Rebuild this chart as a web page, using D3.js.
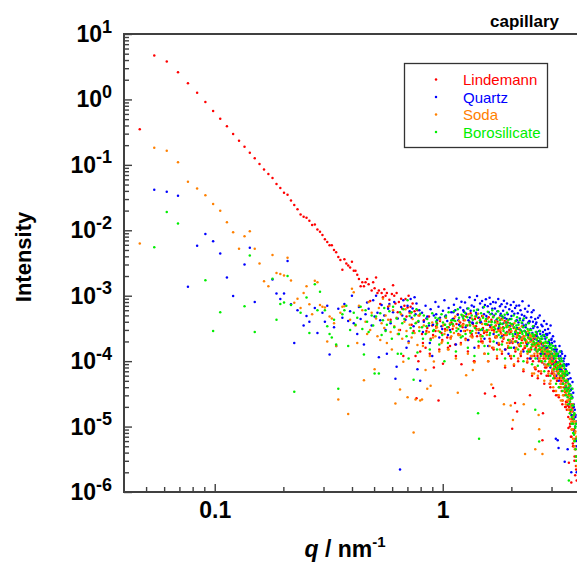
<!DOCTYPE html>
<html><head><meta charset="utf-8">
<script src="https://cdn.jsdelivr.net/npm/d3@7"></script>
<style>body{margin:0;background:#fff}svg{display:block}</style>
</head><body>
<svg id="chart" width="577" height="565"></svg>
<script>
// ---------- DATA ----------
const qLow = [0.0469,0.0543,0.0616,0.0690,0.0763,0.0837,0.0910,0.0984,0.1057,0.1131,
0.1204,0.1278,0.1351,0.1425,0.1498,0.1572,0.1645,0.1719,0.1792,0.1866,
0.1939,0.2013,0.2086,0.2160,0.2233,0.2307,0.2380,0.2454,0.2527,0.2601,
0.2674,0.2748,0.2821,0.2895,0.2968,0.3042,0.3115,0.3189,0.3262,0.3336,
0.3409,0.3483,0.3556,0.3630,0.3703,0.3777,0.3850,0.3924,0.3997,0.4071,
0.4144,0.4218,0.4291,0.4365,0.4438,0.4512,0.4585,0.4659,0.4732,0.4806,
0.4879,0.4953,0.5026,0.5100,0.5173,0.5247,0.5320,0.5394,0.5467,0.5541,
0.5614,0.5688,0.5761,0.5835,0.5908,0.5982,0.6055,0.6129,0.6202,0.6276,
0.6349,0.6423,0.6496,0.6570,0.6643,0.6717,0.6790,0.6864,0.6937,0.7011,
0.7084,0.7158,0.7231,0.7305,0.7378,0.7452,0.7525,0.7599,0.7672,0.7746,
0.7819,0.7893,0.7966];
const qHigh = [0.8113,0.8260,0.8407,0.8554,0.8701,0.8848,0.8995,0.9142,0.9289,0.9436,
0.9583,0.9730,0.9877,1.0024,1.0171,1.0318,1.0465,1.0612,1.0759,1.0906,
1.1053,1.1200,1.1347,1.1494,1.1641,1.1788,1.1935,1.2082,1.2229,1.2376,
1.2523,1.2670,1.2817,1.2964,1.3111,1.3258,1.3405,1.3552,1.3699,1.3846,
1.3993,1.4140,1.4287,1.4434,1.4581,1.4728,1.4875,1.5022,1.5169,1.5316,
1.5463,1.5610,1.5757,1.5904,1.6051,1.6198,1.6345,1.6492,1.6639,1.6786,
1.6933,1.7080,1.7227,1.7374,1.7521,1.7668,1.7815,1.7962,1.8109,1.8256,
1.8403,1.8550,1.8697,1.8844,1.8991,1.9138,1.9285,1.9432,1.9579,1.9726,
1.9873,2.0020,2.0167,2.0314,2.0461,2.0608,2.0755,2.0902,2.1049,2.1196,
2.1343,2.1490,2.1637,2.1784,2.1931,2.2078,2.2225,2.2372,2.2519,2.2666,
2.2813,2.2960,2.3107,2.3254,2.3401,2.3548,2.3695,2.3842,2.3989,2.4136,
2.4283,2.4430,2.4577,2.4724,2.4871,2.5018,2.5165,2.5312,2.5459,2.5606,
2.5753,2.5900,2.6047,2.6194,2.6341,2.6488,2.6635,2.6782,2.6929,2.7076,
2.7223,2.7370,2.7517,2.7664,2.7811,2.7958,2.8105,2.8252,2.8399,2.8546,
2.8693,2.8840,2.8987,2.9134,2.9281,2.9428,2.9575,2.9722,2.9869,3.0016,
3.0163,3.0310,3.0457,3.0604,3.0751,3.0898,3.1045,3.1192,3.1339,3.1486,
3.1633,3.1780,3.1927,3.2074,3.2221,3.2368,3.2515,3.2662,3.2809,3.2956,
3.3103,3.3250,3.3397,3.3544,3.3691,3.3838,3.3985,3.4132,3.4279,3.4426,
3.4573,3.4720,3.4867,3.5014,3.5161,3.5308,3.5455,3.5602,3.5749,3.5896,
3.6043,3.6190,3.6337,3.6484,3.6631,3.6778,3.6925,3.7072,3.7219,3.7366,
3.7513,3.7660,3.7807,3.7954,3.8101,3.8248,3.8395,3.8542,3.8689];
const qMid = [0.8187,0.8481,0.8775,0.9069,0.9363,0.9657,0.9951,1.0245,1.0539,1.0833,
1.1127,1.1421,1.1715,1.2009,1.2303,1.2597,1.2891,1.3185,1.3479,1.3773,
1.4067,1.4361,1.4655,1.4949,1.5243,1.5537,1.5831,1.6125,1.6419,1.6713,
1.7007,1.7301,1.7595,1.7889,1.8183,1.8477,1.8771,1.9065,1.9359,1.9653,
1.9947,2.0241,2.0535,2.0829,2.1123,2.1417,2.1711,2.2005,2.2299,2.2593,
2.2887,2.3181,2.3475,2.3769,2.4063,2.4357,2.4651,2.4945,2.5239,2.5533,
2.5827,2.6121,2.6415,2.6709,2.7003,2.7297,2.7591,2.7885,2.8179,2.8473,
2.8767,2.9061,2.9355,2.9649,2.9943,3.0237,3.0531,3.0825,3.1119,3.1413,
3.1707,3.2001,3.2295,3.2589,3.2883,3.3177,3.3471,3.3765,3.4059,3.4353,
3.4647,3.4941,3.5235,3.5529,3.5823,3.6117,3.6411,3.6705,3.6999,3.7293,
3.7587,3.7881,3.8175,3.8469];

const lindemannLow = [0.35,4.7,3.8,2.6,1.76,1.27,0.91,0.665,0.507,0.388,
0.296,0.234,0.189,0.153,0.126,0.103,0.0853,0.0723,0.0628,0.0508,
0.0441,0.0374,0.0349,0.0285,0.0243,0.0209,0.0175,0.0161,0.0155,0.0140,
0.0120,0.0123,0.0103,0.0095,0.0085,0.0073,0.0066,0.0059,0.0059,0.0050,
0.0046,0.0039,0.0035,0.0025,0.0036,0.0031,0.0029,0.0027,0.0033,0.0024,
0.0024,0.0021,0.0018,0.0014,0.0016,0.0014,0.0016,0.0018,0.0015,0.00083,
0.0012,0.0016,0.0013,0.0019,0.0011,0.0012,0.00075,0.0011,0.00095,0.00125,
0.0010,0.0011,0.00068,0.00087,0.00043,0.00106,0.00145,0.0010,0.00076,0.0011,
0.00056,0.0008,0.0003,0.0009,0.00063,0.00012,0.0007,0.00089,0.00048,0.00066,
0.001,0.00055,0.00068,0.00036,0.00076,0.00029,0.00058,0.00012,0.000027,0.0006,
0.0001,0.0005,0.00014];
const lindemannHigh = [2.6e-4,4.2e-4,1.6e-4,3.2e-4,4.8e-4,2.2e-4,3.5e-4,8.0e-5,2.9e-4,3.8e-4,
2.5e-5,4.1e-4,2.7e-4,9.1e-5,3.6e-4,4.6e-4,2.3e-4,3.3e-4,1.7e-4,3.9e-4,
3.1e-4,4.5e-4,1.8e-4,3.7e-4,5.2e-4,2.5e-4,3.9e-4,9.0e-5,3.3e-4,4.2e-4,
2.9e-4,4.8e-4,3.5e-4,2.1e-4,4.0e-4,5.4e-4,2.6e-4,3.7e-4,1.0e-4,4.4e-4,
3.4e-4,2.4e-4,4.6e-4,3.0e-4,3.9e-4,2.0e-4,4.9e-4,3.2e-4,2.7e-4,3.2e-5,
4.1e-4,2.8e-4,3.6e-4,4.7e-4,2.2e-4,3.3e-4,4.3e-4,1.6e-4,3.9e-5,3.0e-4,
2.9e-5,3.5e-4,2.4e-4,4.0e-4,3.1e-4,1.8e-4,3.7e-4,2.7e-4,4.4e-4,2.0e-4,
3.3e-4,2.5e-4,4.1e-4,1.5e-4,3.5e-4,2.8e-4,3.9e-4,2.1e-4,3.0e-4,1.2e-4,
2.8e-4,3.6e-4,9.3e-6,2.2e-4,3.2e-4,1.6e-4,2.3e-5,2.9e-4,2.0e-4,1.7e-5,
2.5e-4,3.1e-4,1.8e-4,2.7e-4,1.3e-4,2.9e-4,2.1e-4,3.4e-4,1.5e-4,2.4e-4,
2.2e-4,1.6e-4,2.8e-4,1.9e-4,2.5e-4,1.1e-4,2.3e-4,2.6e-4,1.4e-4,3.0e-5,
2.0e-4,1.5e-4,2.4e-4,1.7e-4,1.0e-4,2.2e-4,1.9e-4,8.0e-5,2.5e-4,1.6e-4,
1.7e-4,2.1e-4,1.2e-4,1.8e-4,7.0e-5,1.5e-4,2.0e-4,1.3e-4,1.9e-4,1.0e-4,
1.4e-4,6.2e-6,1.6e-5,1.1e-4,1.7e-4,1.3e-4,8.0e-5,1.5e-4,1.2e-4,6.0e-5,
1.2e-4,9.0e-5,1.4e-4,7.0e-5,1.1e-4,4.5e-5,1.3e-4,9.5e-5,1.0e-4,6.5e-5,
9.0e-5,6.5e-5,1.1e-4,7.5e-5,3.5e-5,9.5e-5,5.5e-5,8.0e-5,1.0e-4,6.0e-5,
7.0e-5,5.0e-5,8.5e-5,3.0e-5,6.5e-5,7.5e-5,4.0e-5,5.5e-5,9.0e-5,4.5e-5,
5.0e-5,3.5e-5,6.0e-5,2.5e-5,4.5e-5,5.5e-5,3.0e-5,4.0e-5,6.5e-5,2.0e-5,
3.4e-5,2.4e-5,4.0e-5,1.8e-5,3.0e-5,2.1e-5,3.7e-5,9.5e-6,2.8e-6,2.6e-5,
1.8e-5,1.1e-5,2.2e-5,7.0e-6,1.4e-6,1.5e-5,9.0e-6,1.9e-5,5.5e-6,1.2e-5,
5.0e-6,7.9e-6,3.0e-6,6.0e-6,1.8e-6,4.5e-6,2.5e-6,3.5e-6,1.5e-6];
const lindemannMid = [1.9e-4,2.9e-4,1.3e-4,2.5e-4,3.4e-4,1.5e-4,2.1e-4,3.1e-4,1.6e-4,2.3e-4,
3.5e-4,1.2e-4,2.6e-4,1.9e-4,3.7e-4,2.2e-4,1.4e-4,2.9e-4,2.4e-4,1.0e-4,
3.1e-4,1.7e-4,2.5e-4,2.0e-4,1.3e-4,2.8e-4,1.0e-4,2.0e-4,3.0e-4,1.5e-4,
2.3e-4,1.1e-4,1.8e-4,2.9e-4,1.3e-4,2.2e-4,8.0e-5,2.5e-4,1.6e-4,1.9e-4,
1.1e-4,1.9e-4,8.5e-5,1.4e-4,2.3e-4,1.0e-4,1.7e-4,1.2e-4,2.1e-4,7.0e-5,
1.6e-4,2.0e-4,9.5e-5,1.4e-4,2.2e-4,1.1e-4,6.0e-5,1.8e-4,1.2e-4,7.5e-5,
1.4e-4,5.5e-5,1.0e-4,1.5e-4,6.5e-5,9.5e-5,1.3e-4,4.5e-5,1.1e-4,8.0e-5,
1.3e-4,6.0e-5,9.5e-5,4.0e-5,1.1e-4,7.0e-5,3.5e-5,6.0e-5,8.5e-5,3.0e-5,
5.0e-5,6.5e-5,2.8e-5,5.5e-5,4.0e-5,7.5e-5,2.2e-5,4.5e-5,6.0e-5,3.4e-5,
2.0e-5,4.8e-5,2.4e-5,1.4e-5,2.0e-5,1.0e-5,1.7e-5,7.0e-6,1.3e-5,5.0e-6,
9.0e-6,3.5e-6,6.5e-6,2.2e-6];

const quartzLow = [null,0.0416,0.0388,0.0337,0.00137,0.0058,0.0088,0.0068,0.0044,0.0019,
0.00099,null,0.003,0.0054,0.0008,null,null,null,0.00177,0.00108,
0.00089,0.00108,0.0034,0.00074,0.00019,0.0006,null,0.00035,0.00049,0.0004,
null,0.00065,0.00027,null,0.00055,0.0004,0.0007,0.000126,null,0.00033,
0.00017,0.00063,null,0.00046,0.00075,null,0.00041,0.00058,0.001,0.00038,
null,0.00026,0.00067,0.00044,null,0.00018,0.00052,0.00079,0.00063,null,
0.00035,0.00085,0.00048,0.001,0.00055,0.000115,0.00042,0.00072,null,0.0005,
0.0003,0.00013,0.00063,0.00075,0.00038,null,0.00056,0.0008,0.000054,0.000082,
0.00045,0.00026,0.0000022,0.00067,0.0005,0.00085,null,0.00043,0.00016,0.0007,
0.0002,0.00058,0.00089,0.00046,0.00064,0.00034,0.00095,0.00052,0.00076,0.000075,
0.0004,0.0006,0.00005];
const quartzHigh = [5.5e-4,4.0e-4,7.0e-4,4.8e-4,3.5e-4,6.2e-4,1.2e-4,5.0e-4,8.0e-4,4.2e-4,
6.8e-4,4.6e-4,3.4e-4,5.9e-4,8.5e-4,5.0e-4,4.1e-4,6.5e-4,3.0e-4,5.6e-4,
4.4e-4,7.3e-4,6.0e-4,9.0e-4,5.1e-4,3.6e-4,6.6e-4,8.1e-4,4.8e-4,5.7e-4,
7.9e-4,5.3e-4,6.4e-4,4.2e-4,9.5e-4,5.9e-4,7.1e-4,3.8e-4,6.8e-4,8.6e-4,
5.5e-4,9.9e-4,6.1e-4,4.6e-4,7.6e-4,3.9e-4,8.3e-4,6.6e-4,5.2e-4,7.2e-4,
8.8e-4,4.5e-4,6.9e-4,5.6e-4,9.3e-4,7.5e-4,4.0e-4,6.3e-4,8.0e-4,5.0e-4,
6.4e-4,7.9e-4,4.3e-4,5.8e-4,8.9e-4,3.6e-4,6.9e-4,5.3e-4,7.4e-4,4.8e-4,
5.9e-4,8.4e-4,4.6e-4,6.7e-4,3.9e-4,7.6e-4,5.2e-4,1.3e-4,6.2e-4,4.4e-4,
7.2e-4,4.9e-4,5.8e-4,3.6e-4,8.0e-4,5.3e-4,6.5e-4,4.1e-4,7.0e-4,3.2e-4,
5.4e-4,3.9e-4,7.1e-4,4.5e-4,6.0e-4,2.9e-4,5.1e-4,8.2e-4,4.2e-4,3.5e-4,
4.9e-4,6.3e-4,3.3e-4,4.6e-4,2.6e-4,5.7e-4,3.9e-4,7.0e-4,4.1e-4,1.1e-4,
3.1e-4,4.7e-4,5.6e-4,2.7e-4,4.0e-4,6.0e-4,3.4e-4,2.2e-4,4.4e-4,3.7e-4,
3.9e-4,2.4e-4,3.3e-4,4.6e-4,2.0e-4,2.9e-4,5.0e-4,2.6e-4,1.6e-4,3.6e-4,
2.2e-4,3.4e-4,2.8e-4,1.7e-4,4.1e-4,2.4e-4,3.0e-4,1.3e-4,2.6e-4,3.7e-4,
2.5e-4,1.6e-4,3.1e-4,2.0e-4,1.3e-4,2.7e-4,1.8e-4,3.5e-4,1.1e-4,2.2e-4,
1.9e-4,1.2e-4,2.4e-4,1.5e-4,9.0e-5,2.0e-4,1.3e-4,1.7e-4,6.5e-6,1.4e-4,
1.5e-4,9.5e-5,6.2e-6,1.3e-4,4.7e-6,1.1e-4,1.7e-4,7.5e-5,1.2e-4,1.4e-4,
1.1e-4,7.0e-5,1.3e-4,8.5e-5,5.5e-5,1.0e-4,6.3e-5,9.0e-5,2.9e-6,1.2e-4,
7.5e-5,4.8e-5,8.5e-5,3.7e-5,6.2e-5,4.5e-6,5.3e-5,9.0e-5,4.0e-5,6.6e-5,
4.4e-5,2.6e-5,5.5e-5,3.1e-5,2.0e-6,3.8e-5,2.2e-5,4.8e-5,1.7e-5,3.3e-5,
2.2e-5,1.3e-5,8.5e-6,1.8e-5,1.0e-5,1.5e-5,6.0e-6,1.2e-5,2.0e-6];
const quartzMid = [2.8e-4,4.5e-4,1.9e-4,3.6e-4,5.2e-4,2.3e-4,3.1e-4,4.8e-4,2.5e-4,3.7e-4,
5.6e-4,1.8e-4,4.2e-4,2.9e-4,6.0e-4,3.3e-4,2.1e-4,4.6e-4,3.9e-4,1.6e-4,
5.1e-4,2.7e-4,4.0e-4,3.0e-4,2.2e-4,4.9e-4,1.7e-4,3.5e-4,5.3e-4,2.6e-4,
4.1e-4,1.9e-4,3.2e-4,5.0e-4,2.4e-4,3.8e-4,1.5e-4,4.4e-4,2.8e-4,3.4e-4,
2.0e-4,3.5e-4,1.6e-4,2.6e-4,4.2e-4,1.9e-4,3.1e-4,2.3e-4,3.8e-4,1.4e-4,
2.9e-4,3.6e-4,1.8e-4,2.5e-4,4.0e-4,2.1e-4,1.2e-4,3.2e-4,2.4e-4,1.5e-4,
2.8e-4,1.1e-4,2.0e-4,2.9e-4,1.3e-4,1.8e-4,2.5e-4,9.0e-5,2.2e-4,1.6e-4,
2.6e-4,1.2e-4,1.9e-4,8.0e-5,2.1e-4,1.3e-4,7.0e-5,1.1e-4,1.5e-4,6.0e-5,
9.5e-5,1.2e-4,5.0e-5,1.0e-4,7.5e-5,1.4e-4,4.5e-5,8.5e-5,1.1e-4,6.5e-5,
4.0e-5,9.0e-5,5.0e-5,3.0e-5,4.2e-5,2.2e-5,3.6e-5,1.5e-5,2.8e-5,1.1e-5,
2.0e-5,8.0e-6,1.4e-5,5.0e-6];

const sodaLow = [0.0063,0.182,0.164,0.110,0.0552,0.0437,0.0342,0.0252,0.0199,0.0133,
0.0093,0.0052,0.0081,0.0097,0.0052,0.0031,0.00166,0.00139,0.0042,0.00222,
0.00214,0.00204,0.0038,0.00171,0.00078,0.0009,0.00065,0.0011,0.0014,0.00074,
0.00052,0.0017,0.0016,0.00072,0.00068,0.00066,0.0002,0.00048,0.00045,0.00038,
0.00017,0.000026,0.00055,0.00068,0.00069,null,0.0000156,0.00043,0.00128,0.00113,
0.00035,0.00019,0.0007,null,0.0006,0.000051,0.0004,0.00026,0.0008,0.0003,
0.00055,null,0.000075,0.00045,0.00024,0.00065,0.00021,0.00038,0.0009,0.00032,
0.0005,0.00019,0.00043,0.0007,0.00028,0.00015,0.0006,0.00034,0.0000225,0.00046,
0.00026,0.0003,0.000037,0.00052,0.00022,0.000098,0.0004,0.00062,0.00029,0.000028,
0.00019,0.00036,0.00054,0.00023,0.00044,0.0000081,0.00027,0.000026,0.00039,0.000176,
0.0005,0.00033,0.000025];
const sodaHigh = [2.6e-5,3.5e-4,7.3e-5,3.8e-5,2.8e-4,4.2e-5,3.9e-4,9.9e-5,2.4e-4,3.3e-4,
2.9e-4,4.3e-4,1.9e-4,3.5e-4,2.6e-4,4.6e-4,3.0e-4,1.5e-4,3.8e-4,2.4e-4,
3.7e-4,2.7e-4,4.8e-4,3.2e-4,3.3e-5,4.1e-4,2.5e-4,3.5e-4,5.0e-4,2.9e-4,
4.2e-4,6.1e-5,3.0e-4,5.2e-4,3.6e-4,2.4e-4,4.5e-4,7.3e-5,3.4e-4,4.8e-4,
2.7e-4,3.9e-4,5.3e-4,3.1e-4,4.4e-4,2.2e-4,3.7e-4,4.9e-4,2.9e-4,4.1e-4,
3.6e-4,2.5e-4,4.5e-4,3.0e-4,1.7e-4,4.0e-4,4.4e-5,3.3e-4,4.8e-4,2.8e-4,
3.4e-4,4.1e-4,2.3e-4,3.8e-4,2.9e-4,4.6e-4,1.5e-4,3.2e-4,2.6e-4,4.3e-4,
3.1e-4,2.2e-5,3.9e-4,2.5e-4,3.6e-4,1.9e-4,4.2e-4,2.8e-4,3.3e-4,2.1e-4,
2.1e-5,2.9e-4,3.5e-4,1.26e-5,2.4e-4,3.8e-4,2.0e-4,3.1e-4,1.6e-4,2.7e-4,
2.6e-4,1.8e-4,3.2e-4,2.2e-4,2.8e-4,1.4e-4,3.4e-4,2.3e-4,1.9e-4,2.2e-5,
2.4e-4,3.8e-6,1.7e-4,2.7e-4,2.0e-4,1.3e-4,2.9e-4,2.2e-4,1.5e-4,2.5e-4,
2.0e-4,1.6e-4,2.4e-4,1.2e-4,2.1e-4,1.7e-4,6.5e-5,2.3e-4,4.5e-6,1.8e-4,
1.7e-4,2.2e-4,1.3e-4,1.9e-4,1.5e-5,9.1e-6,1.8e-4,1.1e-4,2.0e-4,1.4e-4,
1.5e-4,3.8e-6,1.8e-4,1.2e-4,1.6e-4,9.0e-5,1.4e-4,1.9e-4,1.1e-4,1.3e-4,
1.2e-4,1.5e-4,8.5e-5,1.3e-4,9.5e-5,1.6e-4,1.0e-4,5.0e-5,1.4e-4,1.1e-4,
9.5e-5,1.2e-4,7.0e-5,1.0e-4,8.0e-5,1.3e-4,6.0e-5,9.0e-5,3.5e-5,1.1e-4,
7.5e-5,9.0e-5,5.5e-5,8.0e-5,6.5e-5,4.0e-5,9.5e-5,6.0e-5,7.0e-5,2.5e-5,
5.5e-5,4.0e-5,6.5e-5,4.5e-5,3.0e-5,6.0e-5,5.0e-5,3.5e-5,7.0e-5,4.2e-5,
4.5e-5,3.2e-5,5.0e-5,3.8e-5,2.5e-5,4.8e-5,3.4e-5,1.8e-5,4.2e-5,2.9e-5,
2.5e-5,1.6e-5,3.0e-5,2.0e-5,1.2e-5,2.7e-5,1.8e-5,9.0e-6,2.2e-5,1.4e-5,
1.1e-5,6.0e-6,1.5e-5,4.5e-6,8.0e-6,1.2e-5,3.5e-6,7.0e-6,2.5e-6];
const sodaMid = [1.7e-4,2.7e-4,1.2e-4,2.3e-4,3.2e-4,1.4e-4,2.0e-4,2.9e-4,1.5e-4,2.2e-4,
3.4e-4,1.1e-4,2.5e-4,1.8e-4,3.6e-4,2.1e-4,1.3e-4,2.8e-4,2.3e-4,9.5e-5,
3.0e-4,1.6e-4,2.4e-4,1.9e-4,1.3e-4,2.9e-4,1.0e-4,2.1e-4,3.1e-4,1.6e-4,
2.4e-4,1.2e-4,1.9e-4,3.0e-4,1.4e-4,2.3e-4,8.5e-5,2.6e-4,1.7e-4,2.0e-4,
1.2e-4,2.0e-4,9.0e-5,1.5e-4,2.4e-4,1.1e-4,1.8e-4,1.3e-4,2.2e-4,7.5e-5,
1.7e-4,2.1e-4,1.0e-4,1.5e-4,2.3e-4,1.2e-4,6.5e-5,1.9e-4,1.3e-4,8.0e-5,
1.5e-4,6.0e-5,1.1e-4,1.6e-4,7.0e-5,1.0e-4,1.4e-4,5.0e-5,1.2e-4,8.5e-5,
1.4e-4,6.5e-5,1.0e-4,4.5e-5,1.2e-4,7.5e-5,4.0e-5,6.5e-5,9.0e-5,3.5e-5,
5.5e-5,7.0e-5,3.0e-5,6.0e-5,4.5e-5,8.0e-5,2.5e-5,5.0e-5,6.5e-5,3.8e-5,
2.2e-5,5.2e-5,3.0e-5,1.8e-5,2.6e-5,1.3e-5,2.2e-5,9.0e-6,1.7e-5,6.5e-6,
1.2e-5,5.0e-6,8.5e-6,3.0e-6];

const borosilicateLow = [null,0.0055,0.019,0.0127,null,null,0.00173,0.00029,0.00056,null,
null,null,0.00069,0.0041,0.00028,null,null,null,0.00181,0.00043,
0.00075,0.00079,0.002,0.00072,0.000034,null,0.00055,null,0.00094,0.00027,
null,0.0015,0.0006,0.00115,null,0.0006,0.00034,0.00026,0.00023,0.00043,
0.00018,0.000038,null,0.00052,0.0006,0.0007,0.00017,0.0003,null,0.00055,
0.00036,0.00046,null,0.00068,0.00031,0.000126,0.0006,0.0004,0.00028,null,
0.0005,0.00035,0.000065,0.00048,null,0.000065,0.00054,0.00025,0.00042,0.00065,
0.00029,0.00036,null,0.00058,0.0004,0.00022,0.00068,0.00033,null,0.00045,
0.00013,0.00026,0.00056,0.00013,0.00038,0.00062,0.00044,null,0.00024,0.00085,
0.00011,0.00049,0.00032,0.00056,0.00027,0.000052,0.0005,0.00038,0.00062,0.000135,
0.00041,0.00029,0.00053];
const borosilicateHigh = [3.3e-4,5.0e-4,2.6e-4,4.4e-4,3.8e-4,2.1e-4,5.4e-4,3.0e-4,4.6e-4,3.6e-4,
4.5e-4,2.8e-4,5.2e-4,3.9e-4,1.0e-4,4.8e-4,3.3e-4,5.6e-4,3.6e-4,4.2e-4,
3.7e-4,5.8e-4,4.1e-4,2.9e-4,6.2e-4,4.6e-4,3.4e-4,5.1e-4,2.4e-4,4.9e-4,
5.5e-4,3.5e-4,4.7e-4,6.4e-4,3.9e-4,2.7e-4,5.0e-4,4.3e-4,5.9e-4,3.2e-4,
4.8e-4,6.1e-4,1.6e-5,6.5e-6,4.2e-4,5.4e-4,3.1e-4,4.6e-4,6.7e-4,3.7e-4,
4.4e-4,3.0e-4,5.7e-4,4.0e-4,2.5e-4,5.2e-4,3.6e-4,6.0e-4,4.7e-4,3.3e-4,
3.9e-4,5.3e-4,2.8e-4,4.5e-4,5.8e-4,3.4e-4,4.2e-4,2.3e-4,5.0e-4,3.7e-4,
4.6e-4,3.2e-4,5.1e-4,2.7e-4,3.9e-4,5.5e-4,3.5e-4,4.3e-4,1.6e-4,3.8e-4,
3.1e-4,4.4e-4,3.7e-4,2.4e-4,5.0e-4,3.3e-4,2.8e-4,4.1e-4,3.5e-4,4.7e-4,
2.7e-4,3.6e-4,2.2e-4,4.2e-4,3.0e-4,1.9e-4,3.9e-4,2.6e-4,3.3e-4,4.5e-4,
2.9e-4,2.1e-4,3.5e-4,2.5e-4,1.7e-4,3.1e-4,2.3e-4,3.8e-4,2.7e-4,1.4e-4,
2.2e-4,3.0e-4,1.8e-4,2.6e-4,3.4e-4,2.0e-4,2.5e-4,1.5e-4,1.8e-5,2.8e-4,
1.9e-4,2.6e-4,1.4e-4,2.3e-4,1.7e-4,5.9e-6,2.9e-4,2.0e-4,1.2e-4,2.4e-4,
1.6e-4,2.2e-4,1.3e-4,1.9e-4,2.5e-4,1.5e-4,1.0e-4,2.0e-4,1.7e-4,2.3e-4,
1.4e-4,1.9e-4,1.1e-4,1.7e-4,2.1e-4,1.2e-4,1.6e-4,8.5e-5,1.8e-4,1.3e-4,
1.5e-4,1.0e-4,1.7e-4,1.2e-4,7.5e-5,1.4e-4,1.1e-4,1.6e-4,9.0e-5,1.3e-4,
1.2e-4,8.0e-5,1.3e-4,9.5e-5,6.5e-5,1.1e-4,8.5e-5,1.4e-4,7.0e-5,1.0e-4,
8.5e-5,6.0e-5,1.0e-4,7.0e-5,4.5e-5,9.0e-5,5.5e-5,7.8e-5,3.8e-5,6.5e-5,
6.0e-5,4.2e-5,7.0e-5,3.5e-5,5.0e-5,2.8e-5,6.5e-5,4.5e-5,1.5e-6,3.9e-5,
3.5e-5,2.4e-5,4.2e-5,1.8e-5,3.0e-5,1.4e-5,2.7e-5,3.8e-5,1.1e-5,2.1e-5,
1.3e-5,7.5e-6,1.6e-5,6.0e-6,9.5e-6,4.5e-6,1.1e-5,3.0e-6,6.5e-6];
const borosilicateMid = [2.2e-4,3.4e-4,1.5e-4,2.9e-4,4.0e-4,1.8e-4,2.5e-4,3.6e-4,1.9e-4,2.8e-4,
4.2e-4,1.4e-4,3.1e-4,2.3e-4,4.5e-4,2.6e-4,1.6e-4,3.5e-4,2.9e-4,1.2e-4,
3.8e-4,2.0e-4,3.0e-4,2.4e-4,1.7e-4,3.7e-4,1.3e-4,2.7e-4,4.0e-4,2.0e-4,
3.1e-4,1.5e-4,2.5e-4,3.8e-4,1.8e-4,2.9e-4,1.1e-4,3.3e-4,2.1e-4,2.6e-4,
1.6e-4,2.6e-4,1.2e-4,2.0e-4,3.1e-4,1.5e-4,2.4e-4,1.7e-4,2.8e-4,1.0e-4,
2.2e-4,2.7e-4,1.4e-4,1.9e-4,3.0e-4,1.6e-4,9.0e-5,2.4e-4,1.8e-4,1.1e-4,
2.1e-4,8.5e-5,1.5e-4,2.2e-4,1.0e-4,1.4e-4,1.9e-4,7.0e-5,1.7e-4,1.2e-4,
1.9e-4,9.0e-5,1.4e-4,6.0e-5,1.6e-4,1.0e-4,5.5e-5,8.5e-5,1.2e-4,4.5e-5,
7.5e-5,9.5e-5,4.0e-5,8.0e-5,6.0e-5,1.1e-4,3.5e-5,6.5e-5,8.5e-5,5.0e-5,
3.0e-5,7.0e-5,3.8e-5,2.2e-5,3.2e-5,1.6e-5,2.7e-5,1.1e-5,2.1e-5,8.0e-6,
1.5e-5,6.0e-6,1.0e-5,3.5e-6];

const seriesNames = ["Lindemann","Quartz","Soda","Borosilicate"];
const xMajorTicks = [0.1, 1];
const xMajorLabels = ["0.1", "1"];
const xMinorTicks = [0.05,0.06,0.07,0.08,0.09,0.2,0.3,0.4,0.5,0.6,0.7,0.8,0.9,2,3];
const yExponents = [1,0,-1,-2,-3,-4,-5,-6];
const titleText = "capillary";

// ---------- STYLE / LAYOUT ----------
const colors = ["#ff0000","#0000ff","#ff8000","#00ee00"];
const axisColor = "#404040";
const FONT = "'Liberation Sans', Arial, Helvetica, sans-serif";
const plot = {left:124, right:580, top:34, bottom:492};

const qAll = qLow.concat(qHigh, qMid);
const seriesValues = [
  lindemannLow.concat(lindemannHigh, lindemannMid),
  quartzLow.concat(quartzHigh, quartzMid),
  sodaLow.concat(sodaHigh, sodaMid),
  borosilicateLow.concat(borosilicateHigh, borosilicateMid)
];

const svg = d3.select("#chart");
svg.append("rect").attr("width",577).attr("height",565).attr("fill","#fff");

const x = d3.scaleLog().domain([0.04, 4]).range([plot.left, plot.right]);
const y = d3.scaleLog().domain([1e-6, 10]).range([plot.bottom, plot.top]);

svg.append("defs").append("clipPath").attr("id","clip")
  .append("rect").attr("x",plot.left).attr("y",plot.top)
  .attr("width",plot.right-plot.left).attr("height",plot.bottom-plot.top);

// points
seriesValues.forEach((vals, k) => {
  const pts = qAll.map((qq,i)=>({q:qq, v:vals[i]})).filter(d => d.v != null && d.v > 0);
  svg.append("g").attr("clip-path","url(#clip)")
    .selectAll("circle").data(pts).join("circle")
    .attr("cx", d => x(d.q)).attr("cy", d => y(d.v))
    .attr("r", 1.25).attr("fill", colors[k]);
});

// axes
function styleAxis(g){
  g.select(".domain").remove();
  g.selectAll(".tick line").attr("stroke", axisColor).attr("stroke-width",1.4);
}
svg.append("g").attr("transform",`translate(0,${plot.bottom})`)
  .call(d3.axisBottom(x).tickValues(xMinorTicks).tickSize(-5).tickFormat(""))
  .call(styleAxis);
const gxMajor = svg.append("g").attr("transform",`translate(0,${plot.bottom})`)
  .call(d3.axisBottom(x).tickValues(xMajorTicks).tickSize(-8).tickPadding(10)
    .tickFormat((d,i)=>xMajorLabels[i]))
  .call(styleAxis);
gxMajor.selectAll(".tick text").attr("font-family",FONT).attr("font-weight","bold")
  .attr("font-size",23).attr("fill","#000").attr("dy",null).attr("y",26);

const yMinor = [];
for (let e=-6; e<1; e++) for (let m=2; m<10; m++) yMinor.push(m*Math.pow(10,e));
svg.append("g").attr("transform",`translate(${plot.left},0)`)
  .call(d3.axisLeft(y).tickValues(yMinor).tickSize(-5).tickFormat(""))
  .call(styleAxis);
const gyMajor = svg.append("g").attr("transform",`translate(${plot.left},0)`)
  .call(d3.axisLeft(y).tickValues(yExponents.map(e=>Math.pow(10,e))).tickSize(-8).tickFormat(""))
  .call(styleAxis);
gyMajor.selectAll(".tick text").remove();
gyMajor.selectAll(".tick").each(function(d,i){
  const t = d3.select(this).append("text")
    .attr("x",-12).attr("y",7.5).attr("text-anchor","end")
    .attr("font-family",FONT).attr("font-weight","bold").attr("fill","#000");
  t.append("tspan").attr("font-size",23).text("10");
  t.append("tspan").attr("font-size",18).attr("dy",-9.5).text(String(yExponents[i]));
});

// frame lines
svg.append("line").attr("x1",plot.left).attr("x2",plot.left).attr("y1",plot.top-1).attr("y2",plot.bottom+1)
  .attr("stroke",axisColor).attr("stroke-width",2);
svg.append("line").attr("x1",plot.left-1).attr("x2",plot.right).attr("y1",plot.bottom).attr("y2",plot.bottom)
  .attr("stroke",axisColor).attr("stroke-width",2);
svg.append("line").attr("x1",plot.left-1).attr("x2",plot.right).attr("y1",plot.top).attr("y2",plot.top)
  .attr("stroke",axisColor).attr("stroke-width",2);

// axis titles
const xt = svg.append("text").attr("x",345).attr("y",557).attr("text-anchor","middle")
  .attr("font-family",FONT).attr("font-weight","bold").attr("font-size",23).attr("fill","#000");
xt.append("tspan").attr("font-style","italic").text("q");
xt.append("tspan").text(" / nm");
xt.append("tspan").attr("font-size",15).attr("dy",-10).text("-1");

svg.append("text").attr("transform","translate(31,257) rotate(-90)").attr("text-anchor","middle")
  .attr("font-family",FONT).attr("font-weight","bold").attr("font-size",22).attr("fill","#000")
  .text("Intensity");

svg.append("text").attr("x",559).attr("y",27).attr("text-anchor","end")
  .attr("font-family",FONT).attr("font-weight","bold").attr("font-size",17).attr("fill","#000")
  .text(titleText);

// legend
const lg = svg.append("g");
lg.append("rect").attr("x",404.5).attr("y",63.5).attr("width",143).attr("height",84)
  .attr("fill","#fff").attr("stroke","#333").attr("stroke-width",1.3);
seriesNames.forEach((name,k)=>{
  const by = 85 + k*17.5;
  lg.append("circle").attr("cx",436).attr("cy",by-5.5).attr("r",1.25).attr("fill",colors[k]);
  lg.append("text").attr("x",463).attr("y",by).attr("font-family",FONT)
    .attr("font-size",15).attr("fill",colors[k]).text(name);
});
</script>
</body></html>
